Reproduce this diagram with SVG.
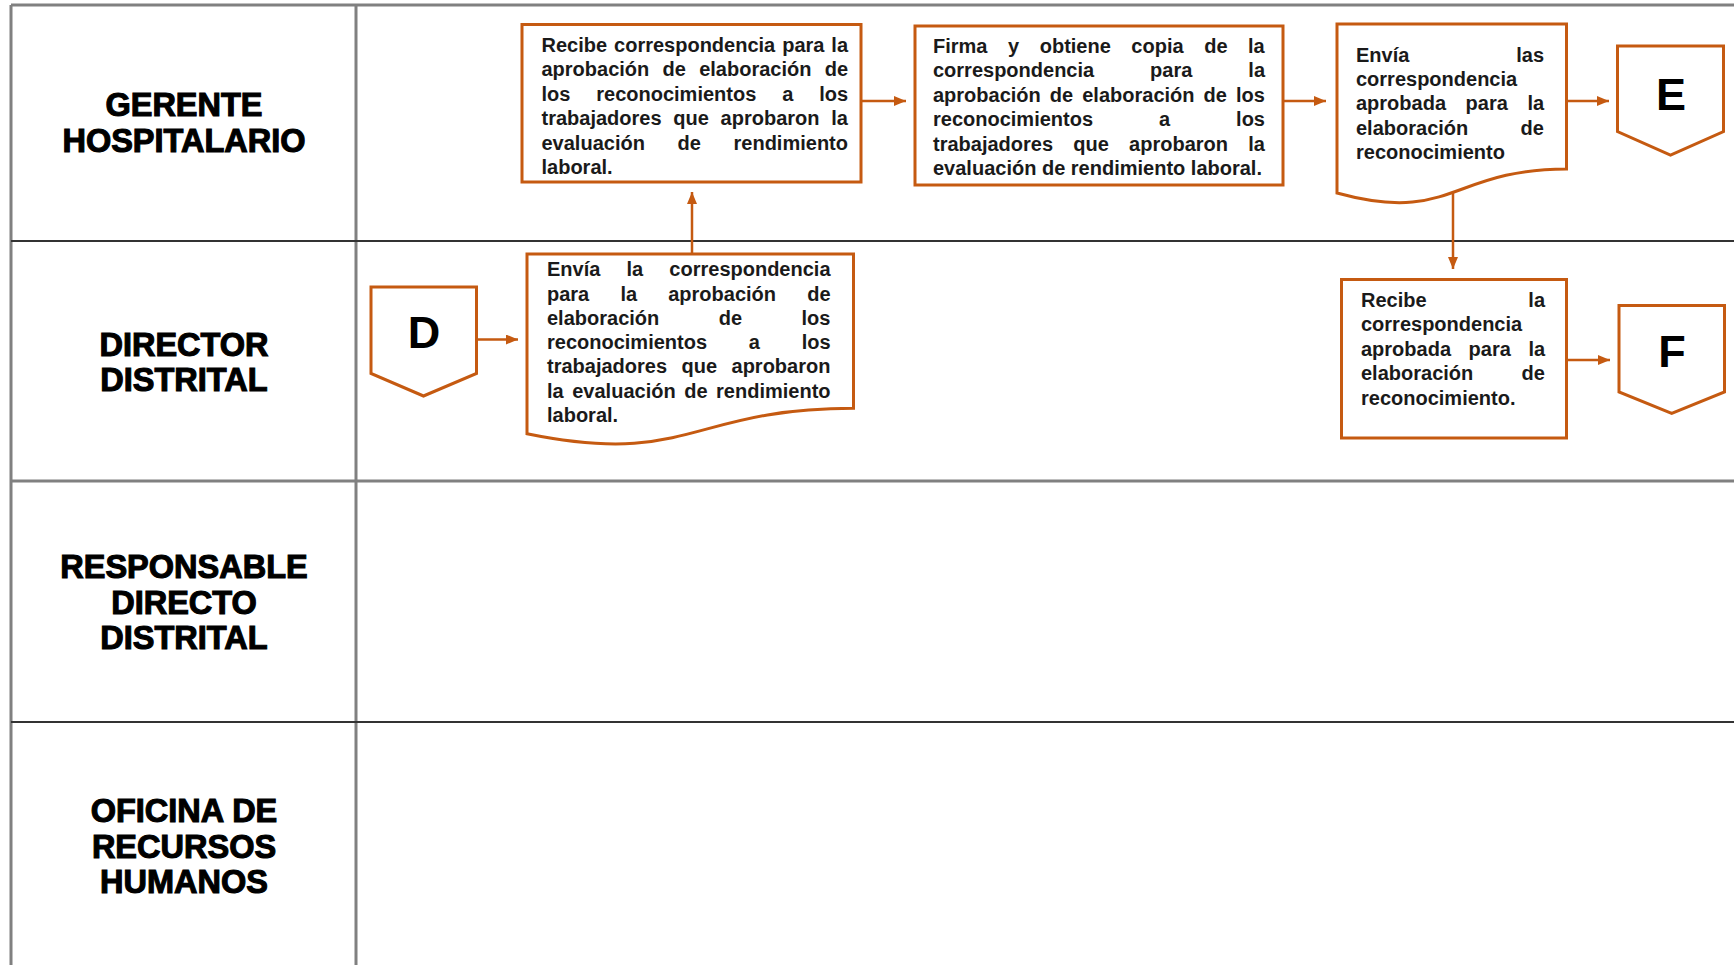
<svg xmlns="http://www.w3.org/2000/svg" width="1734" height="965" viewBox="0 0 1734 965">
<style>
.grid{stroke:#808080;stroke-width:3;fill:none}
.gridd{stroke:#333;stroke-width:2;fill:none}
.lane{font-family:"Liberation Sans",Arial,sans-serif;font-weight:bold;font-size:32.5px;fill:#000;stroke:#000;stroke-width:1.1;text-anchor:middle}
.shape{fill:#fff;stroke:#C55A11;stroke-width:3}
.t{font-family:"Liberation Sans",Arial,sans-serif;font-weight:bold;font-size:20px;fill:#1a1a1a}
.big{font-family:"Liberation Sans",Arial,sans-serif;font-weight:bold;font-size:45px;fill:#000;text-anchor:middle}
.conn{stroke:#C55A11;stroke-width:2.5;fill:none;marker-end:url(#ah)}
</style>
<defs>
<marker id="ah" markerUnits="userSpaceOnUse" markerWidth="13" markerHeight="11" refX="12" refY="5" orient="auto">
<path d="M0,0 L12,5 L0,10 z" fill="#C55A11"/>
</marker>
</defs>
<rect x="0" y="0" width="1734" height="965" fill="#fff"/>
<g id="grid">
<line class="grid" x1="11" y1="5" x2="1734" y2="5"/>
<line class="grid" x1="11" y1="5" x2="11" y2="965"/>
<line class="grid" x1="356" y1="5" x2="356" y2="965"/>
<line class="gridd" x1="11" y1="241" x2="1734" y2="241"/>
<line class="grid" x1="11" y1="481" x2="1734" y2="481"/>
<line class="gridd" x1="11" y1="722" x2="1734" y2="722"/>
</g>
<g id="lanes">
<text class="lane" x="184" y="116">GERENTE</text>
<text class="lane" x="184" y="151.5">HOSPITALARIO</text>
<text class="lane" x="184" y="355.5">DIRECTOR</text>
<text class="lane" x="184" y="391">DISTRITAL</text>
<text class="lane" x="184" y="578">RESPONSABLE</text>
<text class="lane" x="184" y="613.5">DIRECTO</text>
<text class="lane" x="184" y="649">DISTRITAL</text>
<text class="lane" x="184" y="822">OFICINA DE</text>
<text class="lane" x="184" y="857.5">RECURSOS</text>
<text class="lane" x="184" y="893">HUMANOS</text>
</g>
<g id="connectors">
<line class="conn" x1="861" y1="101" x2="906" y2="101"/>
<line class="conn" x1="1283" y1="101" x2="1326" y2="101"/>
<line class="conn" x1="1566" y1="101" x2="1609" y2="101"/>
<line class="conn" x1="1453" y1="192" x2="1453" y2="269"/>
<line class="conn" x1="1566" y1="360" x2="1610" y2="360"/>
<line class="conn" x1="477" y1="339.5" x2="518" y2="339.5"/>
<line class="conn" x1="692" y1="254" x2="692" y2="192"/>
</g>
<g id="box1">
<rect class="shape" x="522" y="24.5" width="339" height="157.5"/>
<text class="t" x="541.5" y="51.7" style="word-spacing:1.4px">Recibe correspondencia para la</text>
<text class="t" x="541.5" y="76.2" style="word-spacing:7.7px">aprobación de elaboración de</text>
<text class="t" x="541.5" y="100.7" style="word-spacing:20.3px">los reconocimientos a los</text>
<text class="t" x="541.5" y="125.1" style="word-spacing:6.2px">trabajadores que aprobaron la</text>
<text class="t" x="541.5" y="149.6" style="word-spacing:27.1px">evaluación de rendimiento</text>
<text class="t" x="541.5" y="174">laboral.</text>
</g>
<g id="box2">
<rect class="shape" x="915" y="26" width="368" height="159"/>
<text class="t" x="933" y="53" style="word-spacing:15px">Firma y obtiene copia de la</text>
<text class="t" x="933" y="77.4" style="word-spacing:50.4px">correspondencia para la</text>
<text class="t" x="933" y="101.8" style="word-spacing:3.5px">aprobación de elaboración de los</text>
<text class="t" x="933" y="126.2" style="word-spacing:60.4px">reconocimientos a los</text>
<text class="t" x="933" y="150.6" style="word-spacing:14.7px">trabajadores que aprobaron la</text>
<text class="t" x="933" y="175">evaluación de rendimiento laboral.</text>
</g>
<g id="doc3">
<path class="shape" d="M1337,24 H1566.5 V169 C1451.7,169 1451.7,224.5 1337,193 Z"/>
<text class="t" x="1356" y="61.5" style="word-spacing:101.3px">Envía las</text>
<text class="t" x="1356" y="86">correspondencia</text>
<text class="t" x="1356" y="110.4" style="word-spacing:14px">aprobada para la</text>
<text class="t" x="1356" y="134.8" style="word-spacing:46.8px">elaboración de</text>
<text class="t" x="1356" y="159.2">reconocimiento</text>
</g>
<g id="E">
<path class="shape" d="M1617.5,46 H1723.5 V131.5 L1670.5,155 L1617.5,131.5 Z"/>
<text class="big" x="1671" y="110">E</text>
</g>
<g id="box4">
<rect class="shape" x="1341.5" y="279.5" width="225" height="158.5"/>
<text class="t" x="1361" y="307" style="word-spacing:96.2px">Recibe la</text>
<text class="t" x="1361" y="331.4">correspondencia</text>
<text class="t" x="1361" y="355.8" style="word-spacing:12px">aprobada para la</text>
<text class="t" x="1361" y="380.2" style="word-spacing:42.8px">elaboración de</text>
<text class="t" x="1361" y="404.6">reconocimiento.</text>
</g>
<g id="F">
<path class="shape" d="M1619,305.5 H1724.5 V392 L1671.7,413.5 L1619,392 Z"/>
<text class="big" x="1672" y="367">F</text>
</g>
<g id="D">
<path class="shape" d="M371,287 H476.5 V373.5 L423.5,396 L371,373.5 Z"/>
<text class="big" x="424" y="348">D</text>
</g>
<g id="doc2">
<path class="shape" d="M527,254 H853.5 V408.3 C690.2,408.3 690.2,467 527,433.7 Z"/>
<text class="t" x="547" y="276.2" style="word-spacing:20.6px">Envía la correspondencia</text>
<text class="t" x="547" y="300.5" style="word-spacing:25.6px">para la aprobación de</text>
<text class="t" x="547" y="324.8" style="word-spacing:53.9px">elaboración de los</text>
<text class="t" x="547" y="349.1" style="word-spacing:36.2px">reconocimientos a los</text>
<text class="t" x="547" y="373.4" style="word-spacing:8.9px">trabajadores que aprobaron</text>
<text class="t" x="547" y="397.7" style="word-spacing:3px">la evaluación de rendimiento</text>
<text class="t" x="547" y="422">laboral.</text>
</g>
</svg>
